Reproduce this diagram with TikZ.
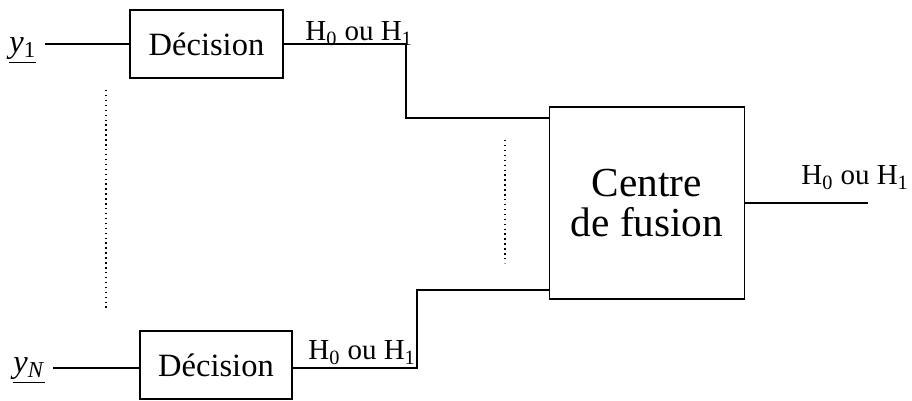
\documentclass[tikz,border=0pt]{standalone}
\usepackage{fontspec}
\setmainfont{Liberation Serif}
\usetikzlibrary{calc}
\tikzset{
  decbox/.style={draw, line width=1.1pt, minimum width=3.05cm, minimum height=1.37cm, font=\fontsize{18.5}{20}\selectfont},
  hlabel/.style={anchor=base west, inner sep=0pt, font=\fontsize{16.5}{18}\selectfont},
  ylabel/.style={anchor=base west, inner sep=0pt, font=\fontsize{18.5}{20}\selectfont},
  wire/.style={line width=1.1pt},
  dots/.style={dotted, line width=0.8pt}
}

\begin{document}
\begin{tikzpicture}[x=0.02cm, y=-0.02cm]
  \useasboundingbox (0,0) rectangle (912,401);
  % decision boxes and fusion centre
  \node[decbox] (dec1) at (206.5,44) {Décision};
  \node[decbox] (decN) at (216,365) {Décision};
  \node[draw, line width=1.1pt, minimum width=3.9cm, minimum height=3.84cm, align=center,
        font=\fontsize{23.5}{23}\selectfont] (fusion) at (647,203) {Centre\\de fusion};
  % observations
  \node[ylabel] (y1) at (9,53) {\underline{\textit{y}\textsubscript{1}}};
  \node[ylabel] (yN) at (13,373) {\underline{\textit{y}\textsubscript{\textit{N}}}};
  \coordinate (in1) at (45,44);
  \coordinate (inN) at (53,368);
  \draw[wire] (in1) -- (in1 -| dec1.west);
  \draw[wire] (inN) -- (inN -| decN.west);
  % links to the fusion centre
  \coordinate (f1) at (550,118);
  \coordinate (fN) at (550,290);
  \coordinate (k1) at (406,118);
  \coordinate (kN) at (417,290);
  \draw[wire] (dec1.east) -| (k1) -- (f1);
  \draw[wire] (decN.east |- inN) -| (kN) -- (fN);
  \node[hlabel] (h1) at (305,41) {H\textsubscript{0} ou H\textsubscript{1}};
  \node[hlabel] (hN) at (308,360) {H\textsubscript{0} ou H\textsubscript{1}};
  % output
  \coordinate (out) at (868,203);
  \draw[wire] (fusion.east) -- (out);
  \node[hlabel] (hout) at (801,185) {H\textsubscript{0} ou H\textsubscript{1}};
  % dotted lines
  \draw[dots] (106,90) -- (106,310);
  \draw[dots] (505,140) -- (505,263);
\end{tikzpicture}
\end{document}
